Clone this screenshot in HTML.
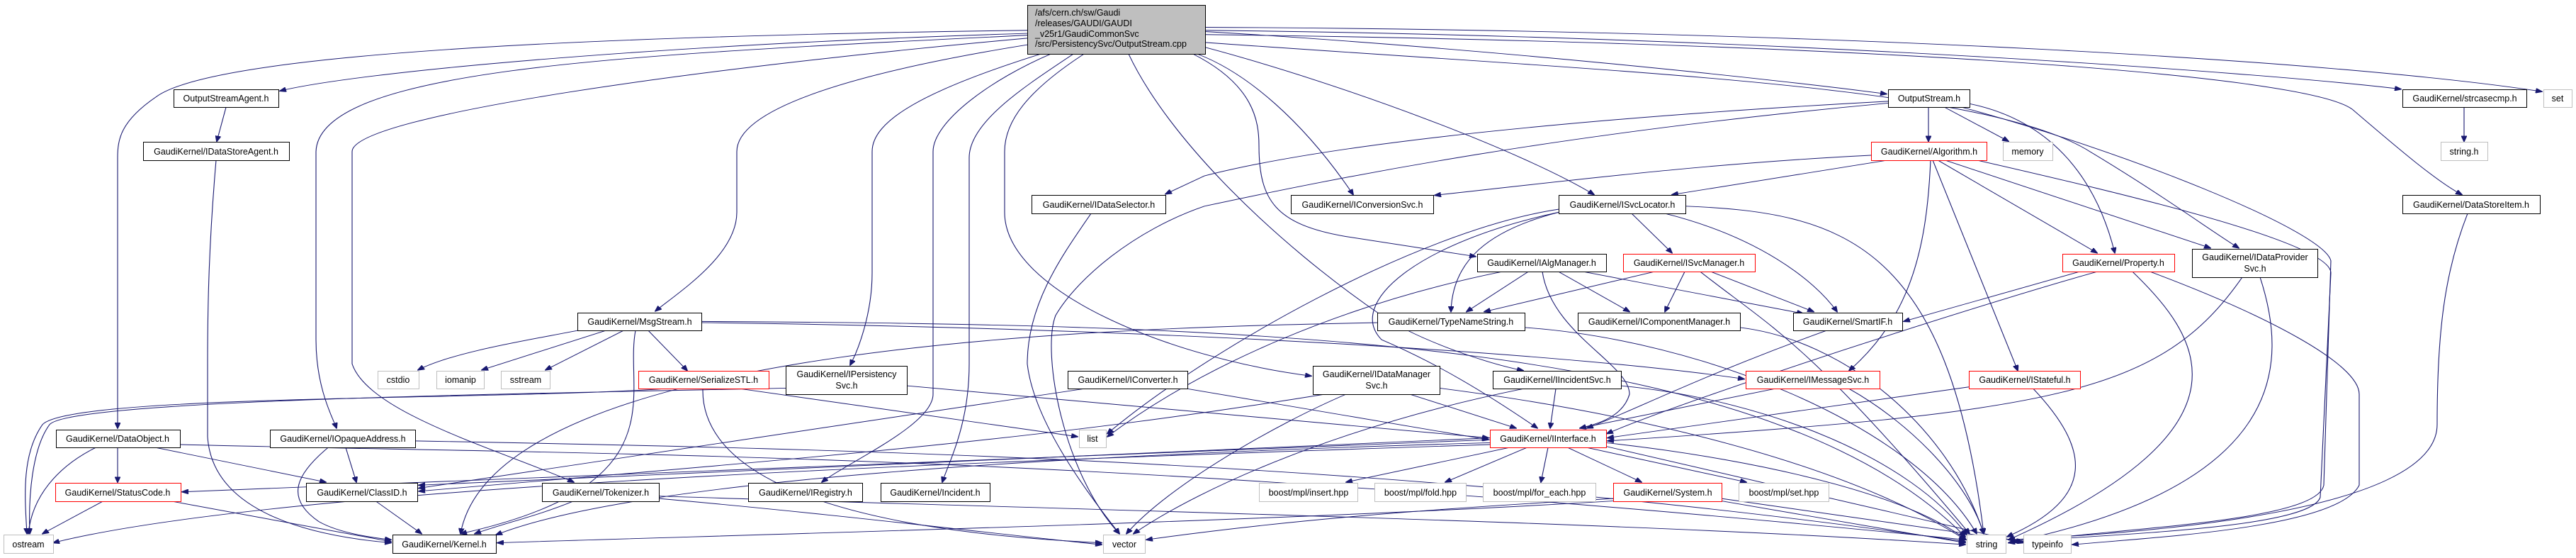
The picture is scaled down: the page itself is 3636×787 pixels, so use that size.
<!DOCTYPE html>
<html><head><meta charset="utf-8"><style>
html,body{margin:0;padding:0;background:#fff;overflow:hidden;}
svg{display:block;}
text{font-family:"Liberation Sans",sans-serif;font-size:12.5px;fill:#000;}
.e{fill:none;stroke:#191970;stroke-width:1.1;}
.n{fill:#fff;stroke:#000;stroke-width:1;}
.r{fill:#fff;stroke:#ff0000;stroke-width:1;}
.g{fill:#fff;stroke:#bfbfbf;stroke-width:1;}
</style></head><body>
<svg width="3636" height="787" viewBox="0 0 3636 787" xmlns="http://www.w3.org/2000/svg">
<defs><marker id="a" markerWidth="10" markerHeight="8" refX="9" refY="4" orient="auto" markerUnits="userSpaceOnUse"><path d="M0,0 L10,4 L0,8 z" fill="#191970" stroke="#191970"/></marker></defs>
<g class="e" marker-end="url(#a)" transform="scale(1,0.8554)">
<path d="M1450,55 C900,75 500,120 395,150"/>
<path d="M1450,50 C800,60 300,90 220,160 C170,200 166,230 166,260 L166,706"/>
<path d="M1450,58 C900,90 450,110 446,250 L446,560 C446,640 470,690 475,706"/>
<path d="M1450,63 C1000,110 497,190 497,250 L497,600 C520,680 700,740 810,795"/>
<path d="M1460,72 C1200,120 1040,180 1040,250 L1040,350 C1040,420 960,480 925,513"/>
<path d="M1480,85 C1300,150 1231,200 1231,250 L1231,450 C1231,520 1210,580 1200,602"/>
<path d="M1485,88 C1400,130 1317,200 1317,250 L1317,650 C1317,700 1200,760 1160,795"/>
<path d="M1515,89 C1450,140 1368,200 1368,260 L1368,600 C1368,700 1340,760 1330,795"/>
<path d="M1530,89 C1450,150 1418,200 1418,250 L1418,350 C1418,480 1650,590 1851,620"/>
<path d="M1593,89 C1650,230 1800,400 1950,520 C2000,560 2100,600 2150,611"/>
<path d="M1690,89 C1760,120 1840,200 1910,321"/>
<path d="M1701,78 C1900,140 2150,250 2250,321"/>
<path d="M1684,89 C1770,140 1777,200 1777,240 C1777,330 1800,370 1900,390 L2083,423"/>
<path d="M1701,52 C2100,80 2500,130 2663,155"/>
<path d="M1701,50 C2500,60 3200,120 3389,147"/>
<path d="M1701,45 C2600,50 3300,100 3588,151"/>
<path d="M1701,57 C2600,70 3250,120 3320,180 C3380,240 3440,300 3475,321"/>
<path d="M1701,70 C2300,120 2800,140 2950,250 C3050,320 3120,380 3160,409"/>
<path d="M319,177 L306,233"/>
<path d="M305,264 C295,400 293,500 293,600 L293,720 C300,850 450,885 552,895"/>
<path d="M166,738 L166,795"/>
<path d="M220,738 L460,795"/>
<path d="M135,738 C80,770 45,820 40,880"/>
<path d="M254,733 C800,750 1500,740 2774,890"/>
<path d="M488,738 L503,795"/>
<path d="M463,738 C420,780 400,820 450,860 C480,880 530,887 552,890"/>
<path d="M586,727 C1200,740 2000,760 2774,893"/>
<path d="M146,826 L60,880"/>
<path d="M240,826 L552,893"/>
<path d="M530,826 L595,880"/>
<path d="M810,826 C760,850 720,860 670,880"/>
<path d="M930,818 C1500,840 2300,860 2774,898"/>
<path d="M930,822 C1200,850 1400,880 1555,898"/>
<path d="M815,545 C750,560 640,580 590,610"/>
<path d="M855,545 L680,610"/>
<path d="M880,545 L770,610"/>
<path d="M915,545 L970,611"/>
<path d="M897,545 C880,650 960,800 650,880"/>
<path d="M990,532 C1600,540 2200,580 2462,625"/>
<path d="M990,530 C1800,535 2500,560 2774,885"/>
<path d="M937,641 C700,660 100,650 60,700 C30,750 35,820 38,880"/>
<path d="M1045,641 L1521,720"/>
<path d="M992,641 C990,750 1100,870 1555,895"/>
<path d="M1280,636 L2101,722"/>
<path d="M1109,640 C700,650 100,660 70,700 C45,740 40,820 42,880"/>
<path d="M1530,641 L591,805"/>
<path d="M1676,641 L2101,725"/>
<path d="M1540,352 C1500,420 1450,500 1450,600 C1460,700 1540,820 1580,880"/>
<path d="M1990,650 L2140,706"/>
<path d="M1870,650 C1500,720 1200,750 591,810"/>
<path d="M1900,650 C1800,700 1650,800 1590,880"/>
<path d="M2032,640 C2300,680 2600,760 2774,890"/>
<path d="M2196,641 L2188,706"/>
<path d="M2150,641 C1900,700 1700,800 1600,880"/>
<path d="M2288,636 C2500,660 2700,760 2776,882"/>
<path d="M2505,641 L2230,706"/>
<path d="M2610,641 C2700,700 2780,800 2800,880"/>
<path d="M2103,725 L257,811"/>
<path d="M2103,722 L591,800"/>
<path d="M2103,730 C1500,750 900,790 700,882"/>
<path d="M2103,733 C1400,760 400,800 75,895"/>
<path d="M2130,738 L1900,795"/>
<path d="M2155,738 L2040,795"/>
<path d="M2185,738 L2175,795"/>
<path d="M2213,738 L2317,795"/>
<path d="M2240,738 L2465,795"/>
<path d="M2267,736 L2856,895"/>
<path d="M2267,730 C2500,760 2700,820 2775,890"/>
<path d="M2277,826 C1800,860 1100,880 702,895"/>
<path d="M2277,822 C2000,840 1800,860 1618,890"/>
<path d="M2430,826 L2774,895"/>
<path d="M2430,822 L2855,893"/>
<path d="M2722,177 L2722,233"/>
<path d="M2745,177 L2835,233"/>
<path d="M2780,171 C2900,200 2960,300 2985,417"/>
<path d="M2770,177 C3000,250 3280,380 3290,430 L3280,800 C3270,860 3000,870 2835,895"/>
<path d="M2665,167 C2300,190 1900,230 1700,290 L1645,320"/>
<path d="M2665,170 C2200,220 1900,290 1700,340 C1600,380 1520,460 1490,520 C1470,580 1500,780 1580,880"/>
<path d="M2641,256 C2400,270 2200,300 2025,322"/>
<path d="M2665,264 L2360,321"/>
<path d="M2735,264 L2960,417"/>
<path d="M2745,264 L3120,409"/>
<path d="M2728,264 L2848,611"/>
<path d="M2725,264 C2720,400 2700,520 2610,611"/>
<path d="M2790,264 C3000,320 3290,400 3290,450 L3275,820 C3260,870 3000,880 2840,893"/>
<path d="M2303,352 L2360,417"/>
<path d="M2350,352 C2480,390 2560,460 2593,514"/>
<path d="M2200,350 C2100,380 2050,430 2048,514"/>
<path d="M2200,345 C2000,380 1700,580 1563,715"/>
<path d="M2200,350 C2000,400 1900,500 1950,560 C2030,600 2100,650 2170,706"/>
<path d="M2379,340 C2600,350 2750,400 2800,880"/>
<path d="M2157,448 L2070,514"/>
<path d="M2200,448 L2300,514"/>
<path d="M2235,448 L2545,517"/>
<path d="M2177,448 C2190,550 2300,600 2300,650 C2290,690 2250,700 2230,706"/>
<path d="M2120,448 C1900,500 1700,600 1563,720"/>
<path d="M2335,448 L2095,514"/>
<path d="M2378,448 L2350,514"/>
<path d="M2415,448 L2560,514"/>
<path d="M2400,448 C2500,540 2550,560 2780,880"/>
<path d="M1944,532 C1600,540 700,560 650,880"/>
<path d="M2152,540 C2400,560 2700,700 2790,880"/>
<path d="M2456,540 C2600,560 2750,700 2800,880"/>
<path d="M2578,545 C2400,620 2300,680 2240,706"/>
<path d="M2935,448 L2687,530"/>
<path d="M2960,448 C2800,500 2400,650 2268,715"/>
<path d="M3010,448 C3100,550 3200,700 2835,890"/>
<path d="M3035,448 C3200,520 3330,600 3330,650 L3330,800 C3300,870 3050,885 2925,898"/>
<path d="M3165,457 C3050,650 2900,680 2269,727"/>
<path d="M3190,457 C3230,600 3230,800 2835,895"/>
<path d="M2779,638 L2269,722"/>
<path d="M2870,641 C2950,740 2960,820 2833,885"/>
<path d="M3478,177 L3478,233"/>
<path d="M3483,352 C3450,450 3440,550 3440,700 C3440,850 3000,880 2835,890"/>
</g>
<rect x="1450.5" y="7.5" width="251" height="69" fill="#bfbfbf" stroke="#000"/>
<text x="1461" y="22">/afs/cern.ch/sw/Gaudi</text>
<text x="1461" y="37">/releases/GAUDI/GAUDI</text>
<text x="1461" y="52">_v25r1/GaudiCommonSvc</text>
<text x="1461" y="66">/src/PersistencySvc/OutputStream.cpp</text>
<g text-anchor="middle">
<rect class="n" x="245.5" y="126.5" width="148" height="25"/><text x="319" y="143">OutputStreamAgent.h</text>
<rect class="n" x="202.5" y="200.5" width="206" height="26"/><text x="305" y="218">GaudiKernel/IDataStoreAgent.h</text>
<rect class="n" x="79.5" y="606.5" width="175" height="25"/><text x="166" y="623">GaudiKernel/DataObject.h</text>
<rect class="n" x="381.5" y="606.5" width="205" height="25"/><text x="484" y="623">GaudiKernel/IOpaqueAddress.h</text>
<rect class="r" x="78.5" y="681.5" width="177" height="26"/><text x="166" y="699">GaudiKernel/StatusCode.h</text>
<rect class="n" x="432.5" y="681.5" width="157" height="26"/><text x="511" y="699">GaudiKernel/ClassID.h</text>
<rect class="n" x="765.5" y="681.5" width="165" height="26"/><text x="848" y="699">GaudiKernel/Tokenizer.h</text>
<rect class="g" x="5.5" y="754.5" width="70" height="26"/><text x="40" y="772">ostream</text>
<rect class="n" x="554.5" y="754.5" width="146" height="26"/><text x="627" y="772">GaudiKernel/Kernel.h</text>
<rect class="n" x="815.5" y="441.5" width="175" height="25"/><text x="903" y="458">GaudiKernel/MsgStream.h</text>
<rect class="g" x="533.5" y="523.5" width="58" height="25"/><text x="562" y="540">cstdio</text>
<rect class="g" x="616.5" y="523.5" width="67" height="25"/><text x="650" y="540">iomanip</text>
<rect class="g" x="707.5" y="523.5" width="69" height="25"/><text x="742" y="540">sstream</text>
<rect class="r" x="901.5" y="523.5" width="184" height="25"/><text x="993" y="540">GaudiKernel/SerializeSTL.h</text>
<rect class="n" x="1456.5" y="275.5" width="189" height="26"/><text x="1551" y="293">GaudiKernel/IDataSelector.h</text>
<rect class="n" x="1109.5" y="516.5" width="171" height="40"/><text x="1195" y="532">GaudiKernel/IPersistency</text><text x="1195" y="548">Svc.h</text>
<rect class="n" x="1507.5" y="523.5" width="169" height="25"/><text x="1592" y="540">GaudiKernel/IConverter.h</text>
<rect class="g" x="1523.5" y="606.5" width="38" height="25"/><text x="1542" y="623">list</text>
<rect class="n" x="1056.5" y="681.5" width="161" height="26"/><text x="1137" y="699">GaudiKernel/IRegistry.h</text>
<rect class="n" x="1243.5" y="681.5" width="154" height="26"/><text x="1320" y="699">GaudiKernel/Incident.h</text>
<rect class="g" x="1557.5" y="754.5" width="59" height="26"/><text x="1587" y="772">vector</text>
<rect class="n" x="1822.5" y="275.5" width="201" height="26"/><text x="1923" y="293">GaudiKernel/IConversionSvc.h</text>
<rect class="n" x="2200.5" y="275.5" width="179" height="26"/><text x="2290" y="293">GaudiKernel/ISvcLocator.h</text>
<rect class="n" x="2665.5" y="126.5" width="115" height="25"/><text x="2723" y="143">OutputStream.h</text>
<rect class="r" x="2641.5" y="200.5" width="163" height="26"/><text x="2723" y="218">GaudiKernel/Algorithm.h</text>
<rect class="n" x="2085.5" y="358.5" width="182" height="25"/><text x="2176" y="375">GaudiKernel/IAlgManager.h</text>
<rect class="r" x="2291.5" y="358.5" width="186" height="25"/><text x="2384" y="375">GaudiKernel/ISvcManager.h</text>
<rect class="n" x="1944.5" y="441.5" width="208" height="25"/><text x="2048" y="458">GaudiKernel/TypeNameString.h</text>
<rect class="n" x="2227.5" y="441.5" width="229" height="25"/><text x="2342" y="458">GaudiKernel/IComponentManager.h</text>
<rect class="n" x="2531.5" y="441.5" width="154" height="25"/><text x="2608" y="458">GaudiKernel/SmartIF.h</text>
<rect class="n" x="1853.5" y="516.5" width="179" height="40"/><text x="1943" y="532">GaudiKernel/IDataManager</text><text x="1943" y="548">Svc.h</text>
<rect class="n" x="2107.5" y="523.5" width="181" height="25"/><text x="2198" y="540">GaudiKernel/IIncidentSvc.h</text>
<rect class="r" x="2464.5" y="523.5" width="189" height="25"/><text x="2559" y="540">GaudiKernel/IMessageSvc.h</text>
<rect class="r" x="2103.5" y="606.5" width="164" height="25"/><text x="2185" y="623">GaudiKernel/IInterface.h</text>
<rect class="g" x="1777.5" y="681.5" width="139" height="26"/><text x="1847" y="699">boost/mpl/insert.hpp</text>
<rect class="g" x="1940.5" y="681.5" width="129" height="26"/><text x="2005" y="699">boost/mpl/fold.hpp</text>
<rect class="g" x="2093.5" y="681.5" width="159" height="26"/><text x="2173" y="699">boost/mpl/for_each.hpp</text>
<rect class="r" x="2277.5" y="681.5" width="153" height="26"/><text x="2354" y="699">GaudiKernel/System.h</text>
<rect class="g" x="2454.5" y="681.5" width="127" height="26"/><text x="2518" y="699">boost/mpl/set.hpp</text>
<rect class="n" x="3391.5" y="126.5" width="175" height="25"/><text x="3479" y="143">GaudiKernel/strcasecmp.h</text>
<rect class="g" x="3590.5" y="126.5" width="40" height="25"/><text x="3610" y="143">set</text>
<rect class="g" x="2827.5" y="200.5" width="70" height="26"/><text x="2862" y="218">memory</text>
<rect class="g" x="3445.5" y="200.5" width="66" height="26"/><text x="3478" y="218">string.h</text>
<rect class="n" x="3391.5" y="275.5" width="194" height="26"/><text x="3488" y="293">GaudiKernel/DataStoreItem.h</text>
<rect class="r" x="2911.5" y="358.5" width="158" height="25"/><text x="2990" y="375">GaudiKernel/Property.h</text>
<rect class="n" x="3094.5" y="351.5" width="177" height="40"/><text x="3183" y="367">GaudiKernel/IDataProvider</text><text x="3183" y="383">Svc.h</text>
<rect class="r" x="2779.5" y="523.5" width="157" height="25"/><text x="2858" y="540">GaudiKernel/IStateful.h</text>
<rect class="g" x="2776.5" y="754.5" width="55" height="26"/><text x="2804" y="772">string</text>
<rect class="g" x="2856.5" y="754.5" width="67" height="26"/><text x="2890" y="772">typeinfo</text>
</g>
</svg>
</body></html>
